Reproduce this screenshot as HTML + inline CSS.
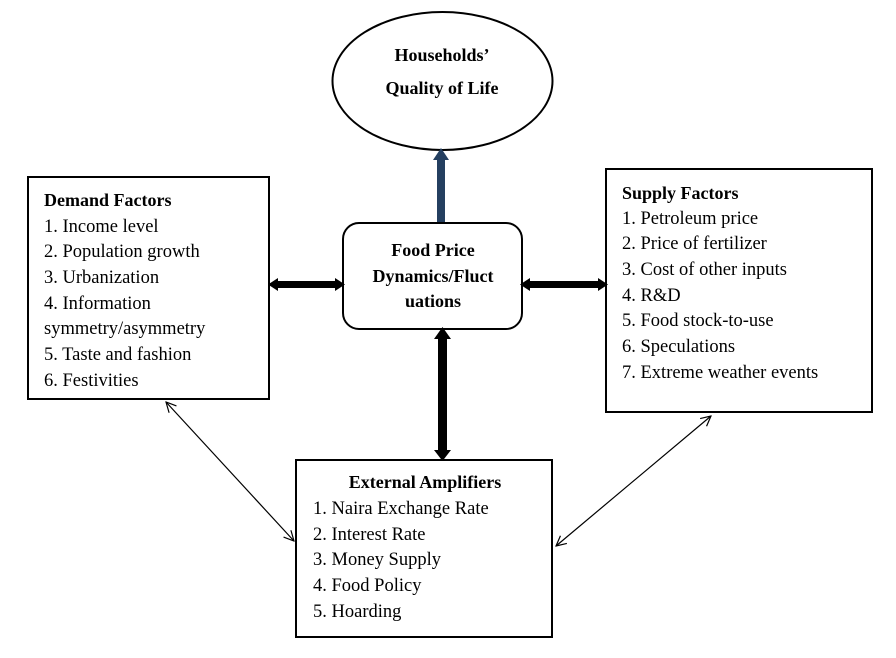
<!DOCTYPE html>
<html><head><style>
body{margin:0;background:#fff;}
svg text{font-family:"Liberation Serif",serif;font-size:18.5px;fill:#000;}
.b{font-weight:bold;font-size:18px;}
</style></head><body>
<svg width="896" height="653" viewBox="0 0 896 653" xmlns="http://www.w3.org/2000/svg">
<defs>
<marker id="open" viewBox="0 0 12 12" refX="11" refY="6" markerWidth="12" markerHeight="12" markerUnits="userSpaceOnUse" orient="auto-start-reverse">
<path d="M1,1 L11,6 L1,11" fill="none" stroke="#000" stroke-width="1.2"/>
</marker>
</defs>
<ellipse cx="442.5" cy="81" rx="110" ry="69" fill="#fff" stroke="#000" stroke-width="2"/>
<text class="b" x="442" y="61" text-anchor="middle">Households’</text>
<text class="b" x="442" y="94" text-anchor="middle">Quality of Life</text>

<rect x="437" y="160" width="8" height="64" fill="#243F60"/>
<path d="M433,160 L441,148 L449,160 Z" fill="#243F60"/>

<rect x="28" y="177" width="241" height="222" fill="#fff" stroke="#000" stroke-width="2"/>
<text class="b" x="44" y="206">Demand Factors</text>
<text x="44" y="232">1. Income level</text>
<text x="44" y="257">2. Population growth</text>
<text x="44" y="283">3. Urbanization</text>
<text x="44" y="309">4. Information</text>
<text x="44" y="334">symmetry/asymmetry</text>
<text x="44" y="360">5. Taste and fashion</text>
<text x="44" y="386">6. Festivities</text>

<rect x="606" y="169" width="266" height="243" fill="#fff" stroke="#000" stroke-width="2"/>
<text class="b" x="622" y="199">Supply Factors</text>
<text x="622" y="224">1. Petroleum price</text>
<text x="622" y="249">2. Price of fertilizer</text>
<text x="622" y="275">3. Cost of other inputs</text>
<text x="622" y="301">4. R&amp;D</text>
<text x="622" y="326">5. Food stock-to-use</text>
<text x="622" y="352">6. Speculations</text>
<text x="622" y="378">7. Extreme weather events</text>

<rect x="343" y="223" width="179" height="106" rx="16" fill="#fff" stroke="#000" stroke-width="2"/>
<text class="b" x="433" y="256" text-anchor="middle">Food Price</text>
<text class="b" x="433" y="282" text-anchor="middle">Dynamics/Fluct</text>
<text class="b" x="433" y="307" text-anchor="middle">uations</text>

<rect x="276" y="281" width="61" height="7" fill="#000"/>
<path d="M268,284.5 L278,278 L278,291 Z M345,284.5 L335,278 L335,291 Z" fill="#000"/>
<rect x="528" y="281" width="72" height="7" fill="#000"/>
<path d="M520,284.5 L530,278 L530,291 Z M608,284.5 L598,278 L598,291 Z" fill="#000"/>
<rect x="438" y="337" width="9" height="115" fill="#000"/>
<path d="M442.5,327 L434,339 L451,339 Z M442.5,461 L434,450 L451,450 Z" fill="#000"/>

<rect x="296" y="460" width="256" height="177" fill="#fff" stroke="#000" stroke-width="2"/>
<text class="b" x="425" y="488" text-anchor="middle">External Amplifiers</text>
<text x="313" y="514">1. Naira Exchange Rate</text>
<text x="313" y="540">2. Interest Rate</text>
<text x="313" y="565">3. Money Supply</text>
<text x="313" y="591">4. Food Policy</text>
<text x="313" y="617">5. Hoarding</text>

<line x1="166" y1="402" x2="294" y2="541" stroke="#000" stroke-width="1.2" marker-start="url(#open)" marker-end="url(#open)"/>
<line x1="711" y1="416" x2="556" y2="546" stroke="#000" stroke-width="1.2" marker-start="url(#open)" marker-end="url(#open)"/>
</svg>
</body></html>
